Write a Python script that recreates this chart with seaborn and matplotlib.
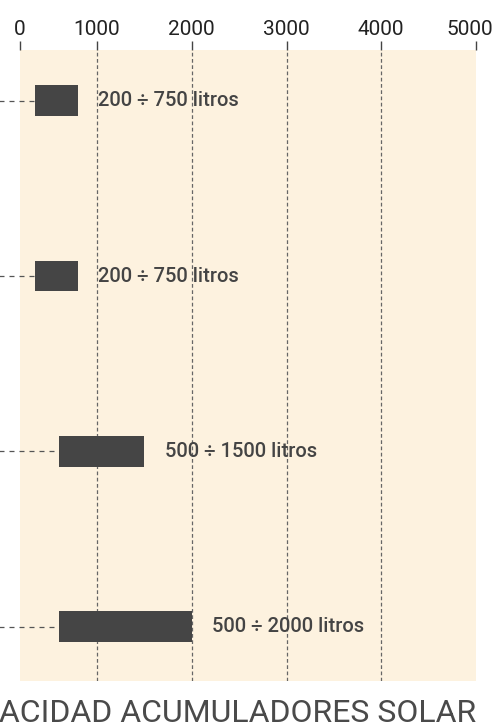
import matplotlib
matplotlib.use("Agg")
import matplotlib.pyplot as plt
from matplotlib.transforms import ScaledTranslation
import seaborn as sns
import pandas as pd
import numpy as np

# Storage capacity ranges (litres) per system
grupos = ["1", "2", "3", "4"]
minimos = [200, 200, 500, 500]
maximos = [750, 750, 1500, 2000]
etiquetas = ["200 ÷ 750 litros", "200 ÷ 750 litros",
             "500 ÷ 1500 litros", "500 ÷ 2000 litros"]
ticks_x = [0, 1000, 2000, 3000, 4000, 5000]
titulo = "CAPACIDAD ACUMULADORES SOLAR"

df = pd.DataFrame({
    "grupo": pd.Categorical(grupos, categories=grupos, ordered=True),
    "minimo": minimos,
    "maximo": maximos,
})
df["rango"] = df["maximo"] - df["minimo"]

sns.set_theme(style="white")
plt.rcParams["font.family"] = ["Roboto", "DejaVu Sans"]

BG = "#fdf2df"
BAR = "#454545"
TXT = "#444444"

# axis with a stretched first thousand-litre segment and a wider remainder
K1, K2 = 0.077, 0.09475


def adelante(x):
    x = np.asarray(x, dtype=float)
    return np.where(x <= 1000, x * K1, 1000 * K1 + (x - 1000) * K2)


def inversa(y):
    y = np.asarray(y, dtype=float)
    return np.where(y <= 1000 * K1, y / K1, 1000 + (y - 1000 * K1) / K2)


fig = plt.figure(figsize=(5.01, 7.24), dpi=100)
W, H = 501, 724
ax = fig.add_axes([20 / W, 1 - 681 / H, 456 / W, 631 / H])
ax.set_facecolor(BG)

sns.barplot(data=df, x="rango", y="grupo", left=df["minimo"].to_numpy(),
            orient="h", color=BAR, saturation=1, errorbar=None,
            width=0.175, ax=ax, linewidth=0)

ax.set_xscale("function", functions=(adelante, inversa))
ax.set_xlim(0, 5000)
ax.set_ylim(3.31, -0.29)

# dashed vertical guides
for v in ticks_x[1:-1]:
    ax.axvline(v, color="#666666", lw=0.9, ls=(0, (3, 2)), zorder=0.5)

# connectors from the left margin to the start of each bar
for i, lo in enumerate(minimos):
    ax.plot([-600, lo], [i, i], color="#555555", lw=0.9, ls=(0, (4, 4)),
            clip_on=False, zorder=1)

# range labels right of each bar
for i, (hi, txt) in enumerate(zip(maximos, etiquetas)):
    ax.annotate(txt, xy=(hi, i), xytext=(14.5, 0), textcoords="offset points",
                ha="left", va="center", fontsize=14.5, fontweight="medium",
                color=TXT)

ax.xaxis.tick_top()
ax.set_xticks(ticks_x)
ax.set_xticklabels([str(t) for t in ticks_x])
ax.xaxis.set_minor_locator(matplotlib.ticker.NullLocator())
ax.tick_params(axis="x", top=True, bottom=False, length=6.5, width=1,
               color="#444444", labelsize=15, labelcolor="#222222", pad=1.3)
last = ax.get_xticklabels()[-1]
last.set_transform(last.get_transform()
                   + ScaledTranslation(-6 / 100, 0, fig.dpi_scale_trans))
ax.set_yticks([])
ax.set_xlabel("")
ax.set_ylabel("")
for s in ax.spines.values():
    s.set_visible(False)

fig.text(476 / W, 1 - 713 / H, titulo, ha="right", va="center",
         fontsize=23, color="#4a4a4a", fontweight="normal")

fig.savefig("out.png", dpi=100, facecolor="white")
